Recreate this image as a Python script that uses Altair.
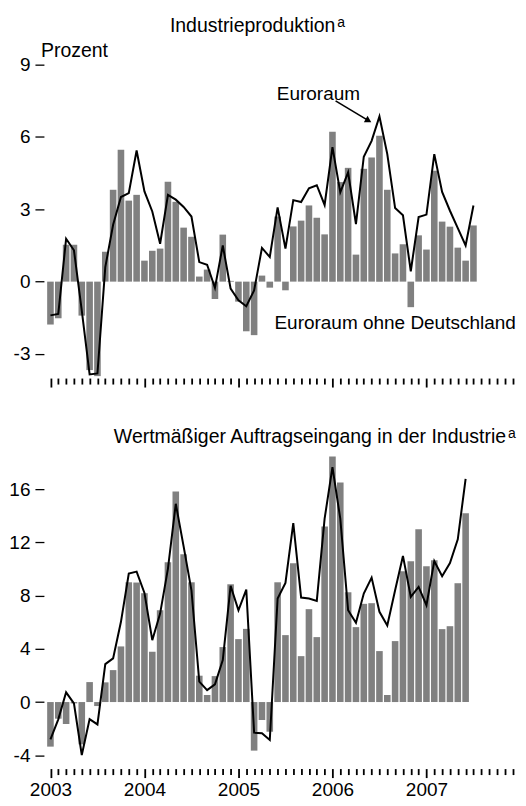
import altair as alt
import pandas as pd

# ---------------- data (monthly, Jan 2003 onwards) ----------------
start_year = 2003
n_months_axis = 60

# Industrieproduktion, % y/y
ip_ohne_de = [-1.78, -1.52, 1.53, 1.53, -1.41, -3.67, -3.92, 1.24, 3.81, 5.47,
              3.36, 3.6, 0.87, 1.28, 1.37, 4.14, 3.31, 2.24, 1.86, 0.21,
              0.5, -0.72, 1.95, 0.03, -0.83, -2.06, -2.22, 0.25, -0.25, 2.7,
              -0.36, 2.29, 2.53, 3.16, 2.65, 1.96, 6.22, 4.13, 4.72, 1.12,
              4.68, 5.15, 6.05, 3.81, 1.17, 1.55, -1.06, 1.92, 1.33, 4.6,
              2.49, 2.28, 1.41, 0.87, 2.33]
ip_euro = [-1.4, -1.34, 1.78, 1.3, -1.2, -3.85, -3.81, 0.6, 2.36, 3.51,
           3.67, 5.44, 3.74, 2.91, 1.57, 3.6, 3.4, 3.1, 2.7, 0.81,
           0.7, -0.26, 1.5, -0.29, -0.77, -1.02, -0.37, 1.4, 1.02, 3.08,
           1.37, 3.38, 3.3, 3.87, 4.0, 3.18, 5.58, 3.7, 4.53, 2.39,
           5.18, 5.84, 6.85, 5.29, 3.05, 2.75, 0.43, 2.68, 2.78, 5.29,
           3.72, 2.94, 2.22, 1.5, 3.16]

# Wertmäßiger Auftragseingang in der Industrie, % y/y
ae_ohne_de = [-3.35, -1.25, -1.65, -0.1, -3.18, 1.5, -0.3, 1.48, 2.4, 4.18,
              9.0, 8.98, 8.18, 3.78, 6.9, 10.5, 15.83, 11.1, 9.0, 1.98,
              0.53, 1.95, 4.13, 8.85, 4.73, 5.5, -3.65, -1.35, -2.23, 9.0,
              5.03, 10.43, 3.45, 6.98, 4.88, 13.2, 18.45, 16.5, 8.25, 5.63,
              7.38, 7.43, 3.83, 0.53, 4.58, 9.83, 10.58, 12.98, 10.2, 10.65,
              5.48, 5.7, 8.93, 14.18]
ae_euro = [-2.8, -1.3, 0.73, -0.1, -3.98, -1.28, -1.68, 2.85, 3.28, 6.03,
           9.65, 9.8, 8.2, 4.65, 6.65, 10.03, 14.9, 11.7, 8.4, 1.53,
           0.9, 1.33, 3.15, 8.73, 6.9, 8.45, -2.3, -2.35, -2.85, 7.78,
           8.95, 13.45, 7.85, 7.78, 7.6, 13.78, 17.65, 13.78, 6.9, 5.95,
           8.15, 9.35, 6.78, 5.75, 8.4, 10.98, 7.9, 8.65, 7.28, 10.6,
           9.45, 10.45, 12.23, 16.78]

top_yticks = [9, 6, 3, 0, -3]
bottom_yticks = [16, 12, 8, 4, 0, -4]

# annotations in data units (month index, value)
ann_labels = ["Euroraum", "Euroraum ohne Deutschland"]
ann_month = [28.9, 28.6]
ann_value = [7.54, -1.95]
arrow_month = [36.4, 40.6]
arrow_value = [7.5, 6.68]

# ---------------- styling ----------------
FONT = "Liberation Sans"
BAR = "#808080"
W = 477
XDOM = [-0.45, 59.05]
H_TOP = 314
H_BOT = 320

xscale = alt.Scale(domain=XDOM, nice=False, zero=False)
tick_cond = {"condition": {"test": "datum.value % 12 === 0", "value": 9}, "value": 6}


def x_axis(labels):
    kw = dict(values=list(range(n_months_axis)), tickCount=200, domain=False, grid=False,
              tickSize=tick_cond, tickWidth=1.8, tickColor="black",
              title=None, labelFlush=False)
    if labels:
        expr = ("datum.value % 12 === 0 ? toString(" + str(start_year)
                + " + floor(datum.value / 12)) : ''")
        kw.update(labelExpr=expr, labelFont=FONT, labelFontSize=19, labelColor="black",
                  labelPadding=3, labelOverlap=False)
    else:
        kw.update(labels=False)
    return alt.Axis(**kw)


def y_axis(vals):
    return alt.Axis(values=vals, domain=False, grid=False, tickSize=9, tickWidth=1.3,
                    tickColor="black", offset=-2, title=None,
                    labelExpr="replace(datum.label, '\u2212', '-')",
                    labelFont=FONT, labelFontSize=19, labelColor="black", labelPadding=5)


def panel(bars, line, ydom, yvals, with_labels):
    df = pd.DataFrame({"m": list(range(len(bars))), "bar": bars, "line": line})
    base = alt.Chart(df)
    b = base.mark_bar(size=6.6, color=BAR).encode(
        x=alt.X("m:Q", scale=xscale, axis=x_axis(with_labels)),
        y=alt.Y("bar:Q", scale=alt.Scale(domain=ydom, nice=False, zero=False), axis=y_axis(yvals)),
    )
    l = base.mark_line(color="black", strokeWidth=2).encode(x="m:Q", y="line:Q")
    return b, l


def text_layer(label, x, y, size=19.5, align="left"):
    return alt.Chart(pd.DataFrame({"t": [label]})).mark_text(
        font=FONT, fontSize=size, align=align, baseline="alphabetic", color="black"
    ).encode(x=alt.value(x), y=alt.value(y), text="t:N")


# ---- top panel ----
tb, tl = panel(ip_ohne_de, ip_euro, [-4, 9], top_yticks, False)

ann_df = pd.DataFrame({"m": ann_month, "v": ann_value, "t": ann_labels})
ann = alt.Chart(ann_df).mark_text(font=FONT, fontSize=19, align="left",
                                  baseline="alphabetic", color="black").encode(
    x="m:Q", y="v:Q", text="t:N")
arrow_df = pd.DataFrame({"m": arrow_month, "v": arrow_value, "o": [0, 1]})
arrow_line = alt.Chart(arrow_df).mark_line(color="black", strokeWidth=1.6).encode(
    x="m:Q", y="v:Q", order="o:Q")
arrow_head = alt.Chart(arrow_df.iloc[[1]]).mark_point(
    shape="triangle-right", filled=True, size=55, angle=30, color="black", opacity=1
).encode(x="m:Q", y="v:Q")

top = alt.layer(
    tb, tl, ann, arrow_line, arrow_head,
    text_layer("Industrieproduktion", 294, -32.6, align="right"),
    text_layer("a", 296, -37.6, size=14),
    text_layer("Prozent", -1, -7.6),
).properties(width=W, height=H_TOP)

# ---- bottom panel ----
bb, bl = panel(ae_ohne_de, ae_euro, [-5, 19], bottom_yticks, True)
bottom = alt.layer(
    bb, bl,
    text_layer("Wertmäßiger Auftragseingang in der Industrie", 465, -6.4, align="right"),
    text_layer("a", 467, -11.4, size=14),
).properties(width=W, height=H_BOT)

chart = alt.vconcat(top, bottom, spacing=38.3).properties(
    padding={"left": 0, "top": 7, "right": 0, "bottom": 0}
).configure_view(stroke=None)

chart.save("out.html", embed_options={"renderer": "svg", "actions": False})
